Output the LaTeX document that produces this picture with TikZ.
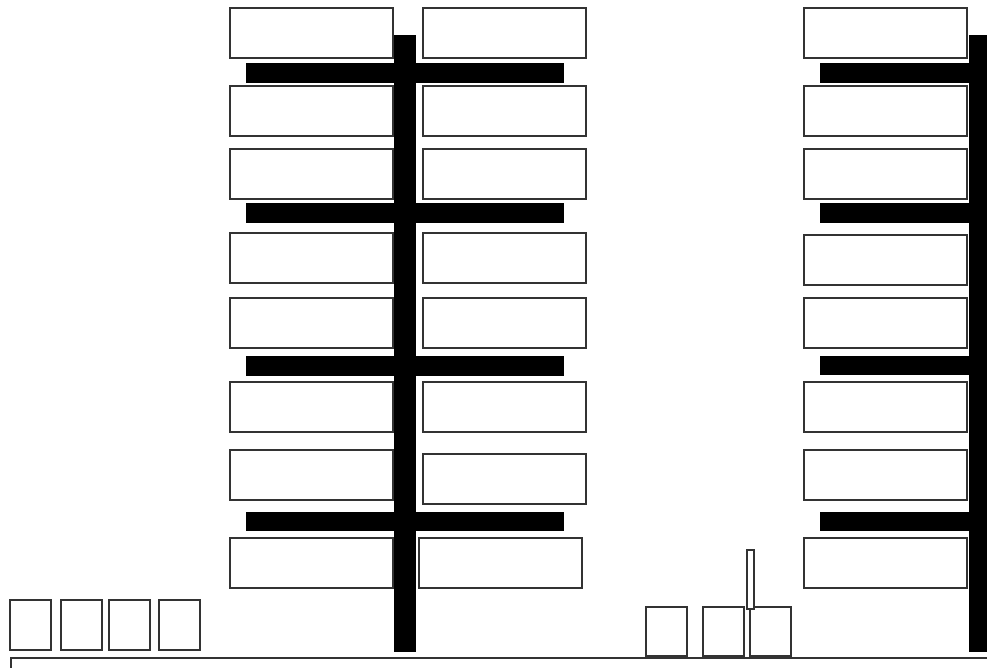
\documentclass[tikz,border=0pt]{standalone}
\usepackage{tikz}
\usetikzlibrary{positioning}

\begin{document}
\begin{tikzpicture}[
		x=0.03cm,
		y=-0.03cm,
		caja/.style={
			rectangle,
			draw=black!80,
			line width=1.3pt,
			fill=white,
			anchor=north west,
			inner sep=0pt,
			minimum width=4.89cm,
			minimum height=1.5cm
		},
		cajita/.style={
			caja,
			minimum width=1.23cm,
			minimum height=1.5cm
		},
		poste/.style={
			caja,
			minimum width=0.21cm,
			minimum height=1.77cm
		},
		barra/.style={
			fill=black
		}
		]
		
		\useasboundingbox (0,0) rectangle (987,667);
		
		% Ejes y travesanos
		\fill[barra] (394,35) rectangle (416,652);
		\fill[barra] (246,63) rectangle (564,83);
		\fill[barra] (246,203) rectangle (564,223);
		\fill[barra] (246,356) rectangle (564,376);
		\fill[barra] (246,512) rectangle (564,531);
		
		\fill[barra] (969,35) rectangle (990,652);
		\fill[barra] (820,63) rectangle (990,83);
		\fill[barra] (820,203) rectangle (990,223);
		\fill[barra] (820,356) rectangle (990,375);
		\fill[barra] (820,512) rectangle (990,531);
		
		% Columna izquierda
		\node[caja] (izq1) at (229,7) {};
		\node[caja] (izq2) at (229,85) {};
		\node[caja] (izq3) at (229,148) {};
		\node[caja] (izq4) at (229,232) {};
		\node[caja] (izq5) at (229,297) {};
		\node[caja] (izq6) at (229,381) {};
		\node[caja] (izq7) at (229,449) {};
		\node[caja] (izq8) at (229,537) {};
		
		% Columna central
		\node[caja] (cen1) at (422,7) {};
		\node[caja] (cen2) at (422,85) {};
		\node[caja] (cen3) at (422,148) {};
		\node[caja] (cen4) at (422,232) {};
		\node[caja] (cen5) at (422,297) {};
		\node[caja] (cen6) at (422,381) {};
		\node[caja] (cen7) at (422,453) {};
		\node[caja] (cen8) at (418,537) {};
		
		% Columna derecha
		\node[caja] (der1) at (803,7) {};
		\node[caja] (der2) at (803,85) {};
		\node[caja] (der3) at (803,148) {};
		\node[caja] (der4) at (803,234) {};
		\node[caja] (der5) at (803,297) {};
		\node[caja] (der6) at (803,381) {};
		\node[caja] (der7) at (803,449) {};
		\node[caja] (der8) at (803,537) {};
		
		% Cajas sueltas abajo
		\node[cajita] (p1) at (9,599) {};
		\node[cajita] (p2) at (60,599) {};
		\node[cajita] (p3) at (108,599) {};
		\node[cajita] (p4) at (158,599) {};
		
		\node[cajita, minimum height=1.47cm] (q1) at (645,606) {};
		\node[cajita, minimum height=1.47cm] (q2) at (702,606) {};
		\node[cajita, minimum height=1.47cm] (q3) at (749,606) {};
		\node[poste] (mastil) at (746,549) {};
		
		% Base
		\node[caja, minimum width=29.7cm, minimum height=0.9cm] (base) at (10,657) {};
		
	\end{tikzpicture}
\end{document}
